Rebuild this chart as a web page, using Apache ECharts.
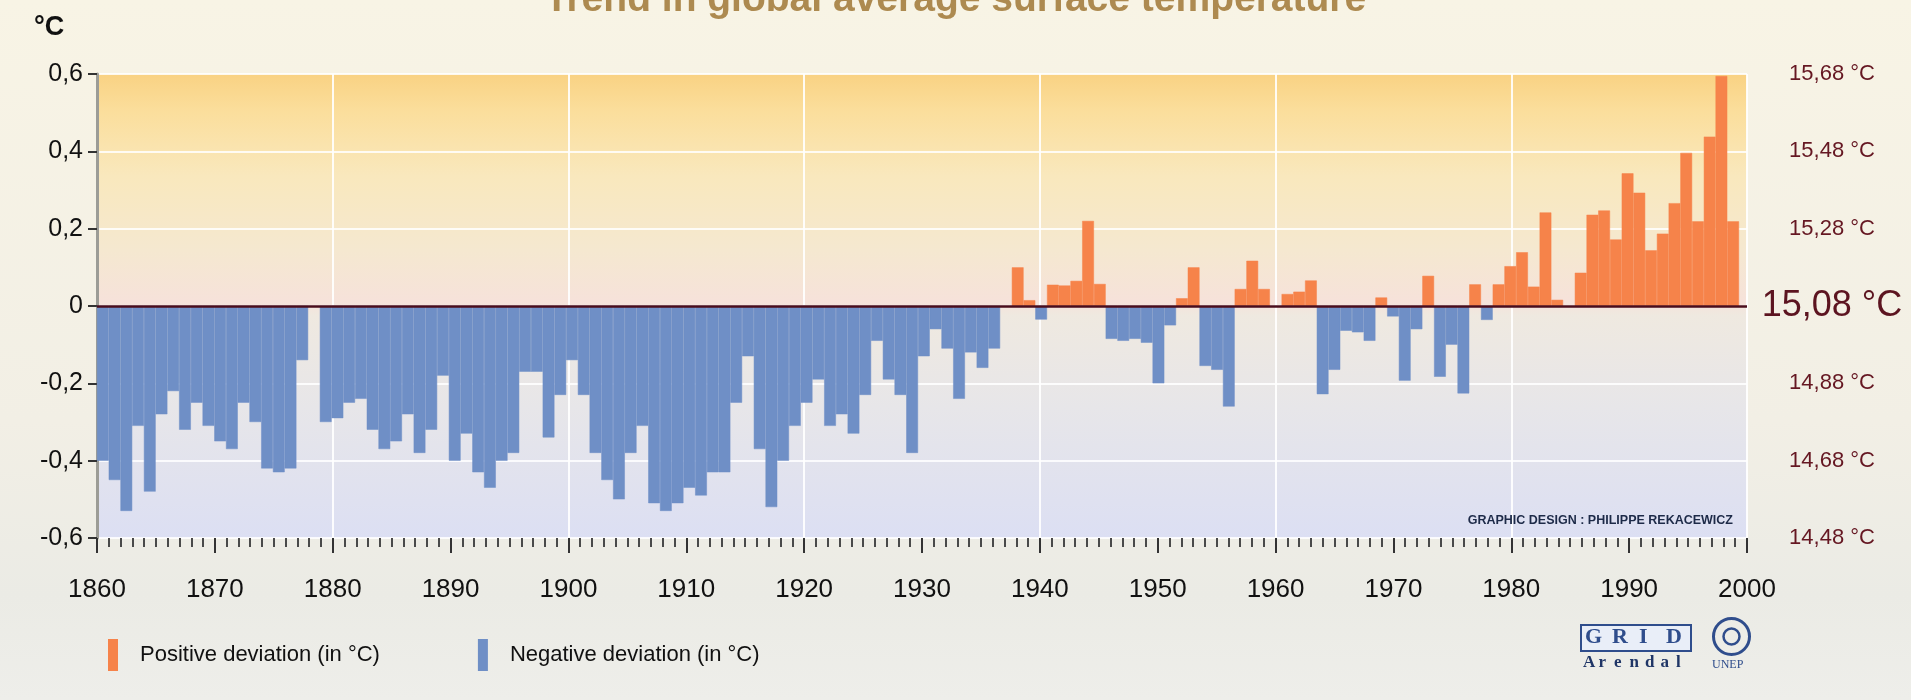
<!DOCTYPE html>
<html>
<head>
<meta charset="utf-8">
<title>Trend in global average surface temperature</title>
<script src="https://cdn.jsdelivr.net/npm/echarts@6/dist/echarts.min.js"></script>
<style>
  html, body { margin: 0; padding: 0; }
  #chart { width: 1911px; height: 700px; }
</style>
</head>
<body>
<div id="chart"></div>
<script>
// ---- Data ----
const firstYear = 1860;
// Deviation from the reference mean (15,08 °C), one value per year 1860–1999
const anomalies = [
  -0.40, -0.45, -0.53, -0.31, -0.48, -0.28, -0.22, -0.32, -0.25, -0.31, // 1860s
  -0.35, -0.37, -0.25, -0.30, -0.42, -0.43, -0.42, -0.14,  0.00, -0.30, // 1870s
  -0.29, -0.25, -0.24, -0.32, -0.37, -0.35, -0.28, -0.38, -0.32, -0.18, // 1880s
  -0.40, -0.33, -0.43, -0.47, -0.40, -0.38, -0.17, -0.17, -0.34, -0.23, // 1890s
  -0.14, -0.23, -0.38, -0.45, -0.50, -0.38, -0.31, -0.51, -0.53, -0.51, // 1900s
  -0.47, -0.49, -0.43, -0.43, -0.25, -0.13, -0.37, -0.52, -0.40, -0.31, // 1910s
  -0.25, -0.19, -0.31, -0.28, -0.33, -0.23, -0.09, -0.19, -0.23, -0.38, // 1920s
  -0.13, -0.06, -0.11, -0.24, -0.12, -0.16, -0.11,  0.00,  0.10,  0.015,// 1930s
  -0.035, 0.055, 0.053, 0.065, 0.22,  0.057,-0.085,-0.09, -0.085,-0.095,// 1940s
  -0.20, -0.05,  0.02,  0.10, -0.155,-0.165,-0.26,  0.044, 0.117, 0.044,// 1950s
   0.00,  0.031, 0.037, 0.066,-0.228,-0.165,-0.064,-0.068,-0.09,  0.022,// 1960s
  -0.027,-0.193,-0.06,  0.078,-0.183,-0.10, -0.226, 0.056,-0.036, 0.056,// 1970s
   0.103, 0.139, 0.05,  0.242, 0.016, 0.00,  0.086, 0.236, 0.247, 0.172,// 1980s
   0.343, 0.293, 0.144, 0.187, 0.266, 0.396, 0.219, 0.438, 0.595, 0.219 // 1990s
];
const years = anomalies.map((_, i) => String(firstYear + i));
const leftTickLabels  = ['-0,6', '-0,4', '-0,2', '0', '0,2', '0,4', '0,6'];
const rightTickLabels = ['14,48 °C', '14,68 °C', '14,88 °C', '15,08 °C', '15,28 °C', '15,48 °C', '15,68 °C'];
const xTickLabels = ['1860','1870','1880','1890','1900','1910','1920','1930','1940','1950','1960','1970','1980','1990','2000'];
const seriesNames = ['Positive deviation (in °C)', 'Negative deviation (in °C)'];

// ---- Derived series (split by sign) ----
const positive = anomalies.map(v => (v > 0 ? v : '-'));
const negative = anomalies.map(v => (v < 0 ? v : '-'));
const tickIndex = v => Math.round((v + 0.6) / 0.2);

const chart = echarts.init(document.getElementById('chart'), null, { renderer: 'canvas' });

const FONT = "'Liberation Sans', Arial, Helvetica, sans-serif";
const SERIF = "'Liberation Serif', 'DejaVu Serif', serif";
const LOGO = '#2f4d8c';

// Logo letters
const logoEls = [];
['G', 'R', 'I', 'D'].forEach((ch, i) => {
  logoEls.push({ type: 'text', left: 1585 + i * 27, top: 626, z: 12,
    style: { text: ch, font: "bold 22px " + SERIF, fill: LOGO } });
});
['A', 'r', 'e', 'n', 'd', 'a', 'l'].forEach((ch, i) => {
  logoEls.push({ type: 'text', left: 1583 + i * 15.5, top: 654, z: 12,
    style: { text: ch, font: "bold 17px " + SERIF, fill: '#1f3566' } });
});

chart.setOption({
  backgroundColor: new echarts.graphic.LinearGradient(0, 0, 0, 1, [
    { offset: 0, color: '#f8f4e5' },
    { offset: 0.6, color: '#f2efe5' },
    { offset: 0.85, color: '#ebebe5' },
    { offset: 1, color: '#eeeeea' }
  ]),
  textStyle: { fontFamily: FONT },
  animation: false,
  grid: [
    { left: 97, right: 164, top: 74, bottom: 162, show: true, borderWidth: 0,
      backgroundColor: new echarts.graphic.LinearGradient(0, 0, 0, 1, [
        { offset: 0.00, color: '#f9d283' },
        { offset: 0.08, color: '#fbde9c' },
        { offset: 0.22, color: '#f9e8bd' },
        { offset: 0.38, color: '#f5e8d0' },
        { offset: 0.49, color: '#f6e2da' },
        { offset: 0.52, color: '#efe9e0' },
        { offset: 0.72, color: '#e7e6e9' },
        { offset: 1.00, color: '#dcdff3' }
      ]) },
    { left: 97, right: 172, top: 74, bottom: 162 }
  ],
  legend: {
    data: seriesNames,
    left: 103, top: 634,
    icon: 'rect', itemWidth: 8, itemHeight: 30, itemGap: 98,
    textStyle: { fontSize: 22, color: '#111', padding: [0, 0, 0, 18], fontFamily: FONT },
    selectedMode: false
  },
  xAxis: [
    { type: 'value', gridIndex: 0, min: 1860, max: 2000, interval: 10,
      axisLine: { show: false, onZero: false },
      axisTick: { show: true, length: 15, lineStyle: { color: '#333', width: 2 } },
      minorTick: { show: true, splitNumber: 10, length: 9, lineStyle: { color: '#4a4a4a', width: 2 } },
      axisLabel: { margin: 39, fontSize: 26, color: '#111',
        formatter: v => xTickLabels[Math.round((v - 1860) / 10)] },
      splitLine: { show: false } },
    { type: 'value', gridIndex: 0, min: 1860, max: 2000, interval: 20, position: 'top',
      axisLine: { show: false, onZero: false }, axisTick: { show: false }, axisLabel: { show: false },
      splitLine: { show: true, lineStyle: { color: '#ffffff', width: 2, opacity: 0.9 } } },
    { type: 'category', gridIndex: 1, data: years, show: false, boundaryGap: true,
      axisLine: { onZero: false } }
  ],
  yAxis: [
    { type: 'value', gridIndex: 0, min: -0.6, max: 0.6, interval: 0.2, position: 'left',
      axisLine: { show: true, onZero: false, lineStyle: { color: '#9c9c96', width: 3 } },
      axisTick: { show: true, length: 9, lineStyle: { color: '#333', width: 2 } },
      axisLabel: { margin: 14, fontSize: 25, color: '#111',
        formatter: v => leftTickLabels[tickIndex(v)] },
      splitLine: { show: true, lineStyle: { color: '#ffffff', width: 2, opacity: 0.85 } } },
    { type: 'value', gridIndex: 0, min: -0.6, max: 0.6, interval: 0.2, position: 'right',
      axisLine: { show: false, onZero: false }, axisTick: { show: false },
      axisLabel: { margin: 85, align: 'center', fontSize: 22, color: '#651722',
        formatter: v => { const i = tickIndex(v); return i === 3 ? '{big|' + rightTickLabels[i] + '}' : rightTickLabels[i]; },
        rich: { big: { fontSize: 36, color: '#5c1420', fontFamily: FONT } } },
      splitLine: { show: false } },
    { type: 'value', gridIndex: 1, min: -0.6, max: 0.6, interval: 0.2, show: false }
  ],
  series: [
    { name: seriesNames[0], type: 'bar', xAxisIndex: 2, yAxisIndex: 2,
      data: positive, barGap: '-100%', barCategoryGap: '0%',
      itemStyle: { color: '#f6834a', borderColor: '#f6834a', borderWidth: 0.5 }, z: 3 },
    { name: seriesNames[1], type: 'bar', xAxisIndex: 2, yAxisIndex: 2,
      data: negative, barGap: '-100%', barCategoryGap: '0%',
      itemStyle: { color: '#6f8fc6', borderColor: '#6f8fc6', borderWidth: 0.5 }, z: 3 },
    { name: 'zero', type: 'line', xAxisIndex: 0, yAxisIndex: 0, data: [[1860, 0]],
      showSymbol: false, lineStyle: { opacity: 0 }, z: 6, silent: true,
      markLine: { silent: true, symbol: ['none', 'none'], label: { show: false },
        lineStyle: { color: '#4a0d1c', width: 2.5, type: 'solid' },
        data: [{ yAxis: 0 }] } }
  ],
  graphic: [
    { type: 'text', left: 'center', top: -19, z: 10,
      style: { text: 'Trend in global average surface temperature', font: "bold 39px " + FONT, fill: '#ad8a50' } },
    { type: 'text', left: 34, top: 14, z: 10,
      style: { text: '°C', font: "bold 27px " + FONT, fill: '#111' } },
    { type: 'text', right: 178, top: 514, z: 10,
      style: { text: 'GRAPHIC DESIGN : PHILIPPE REKACEWICZ', font: "bold 12.5px " + FONT, fill: '#1d2a48' } },
    { type: 'rect', left: 1580, top: 624, z: 9,
      shape: { width: 110, height: 26 },
      style: { fill: '#e9eef8', stroke: LOGO, lineWidth: 2 } },
    { type: 'circle', left: 1711, top: 616, z: 9,
      shape: { r: 18 }, style: { fill: 'none', stroke: LOGO, lineWidth: 3 } },
    { type: 'circle', left: 1721, top: 626, z: 9,
      shape: { r: 8 }, style: { fill: 'none', stroke: LOGO, lineWidth: 2.5 } },
    { type: 'text', left: 1712, top: 659, z: 10,
      style: { text: 'UNEP', font: "12px " + SERIF, fill: LOGO } }
  ].concat(logoEls)
});
</script>
</body>
</html>
